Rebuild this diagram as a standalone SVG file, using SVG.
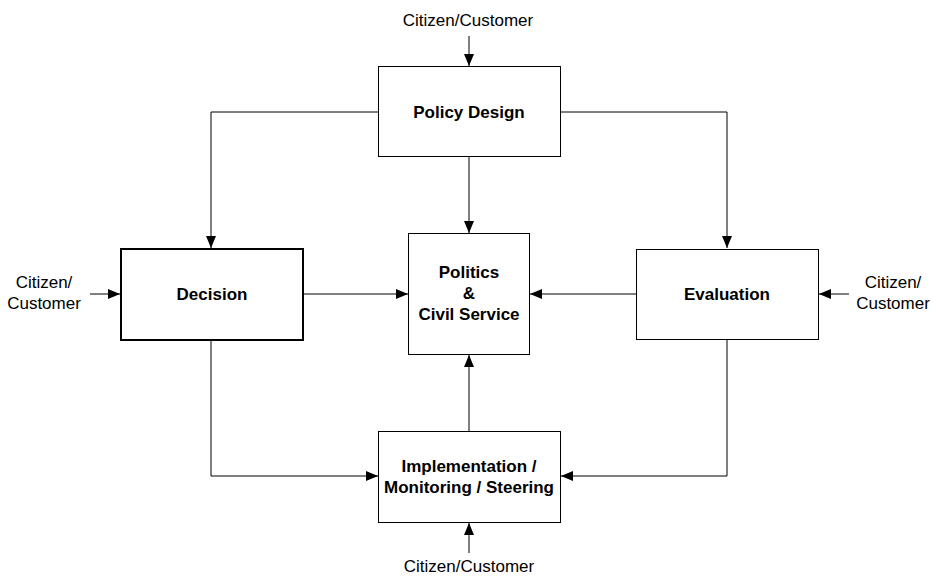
<svg xmlns="http://www.w3.org/2000/svg" width="933" height="576" viewBox="0 0 933 576">
  <style>
    .box { fill: #ffffff; stroke: #000000; stroke-width: 1; }
    .box-strong { fill: #ffffff; stroke: #000000; stroke-width: 2; }
    .label { font-family: "Liberation Sans", Arial, sans-serif; font-size: 17px; font-weight: bold; text-anchor: middle; fill: #000000; }
    .actor { font-family: "Liberation Sans", Arial, sans-serif; font-size: 17px; text-anchor: middle; fill: #000000; }
    .link { fill: none; stroke: #000000; stroke-width: 1; marker-end: url(#arrow); }
  </style>
  <defs>
    <marker id="arrow" viewBox="0 0 12 10" refX="12" refY="5" markerWidth="12" markerHeight="10" markerUnits="userSpaceOnUse" orient="auto">
      <path d="M0,0 L12,5 L0,10 Z" fill="#000000"/>
    </marker>
  </defs>
  <rect width="933" height="576" fill="#ffffff"/>

  <g id="connectors">
    <!-- citizen/customer inputs -->
    <line class="link" x1="469" y1="36" x2="469" y2="66"/>
    <line class="link" x1="90" y1="294" x2="120" y2="294"/>
    <line class="link" x1="849" y1="294" x2="819" y2="294"/>
    <line class="link" x1="469" y1="553" x2="469" y2="523"/>
    <!-- policy design outputs -->
    <polyline class="link" points="378,112 211,112 211,248"/>
    <polyline class="link" points="561,112 727,112 727,248"/>
    <line class="link" x1="469" y1="157" x2="469" y2="233"/>
    <!-- into politics & civil service -->
    <line class="link" x1="303" y1="294" x2="408" y2="294"/>
    <line class="link" x1="636" y1="294" x2="530" y2="294"/>
    <line class="link" x1="469" y1="431" x2="469" y2="355"/>
    <!-- into implementation -->
    <polyline class="link" points="211,340 211,476 378,476"/>
    <polyline class="link" points="727,340 727,476 561,476"/>
  </g>

  <g id="actor-top">
    <text class="actor" x="468" y="26">Citizen/Customer</text>
  </g>
  <g id="actor-left">
    <text class="actor" x="44" y="288">Citizen/</text>
    <text class="actor" x="44" y="309">Customer</text>
  </g>
  <g id="actor-right">
    <text class="actor" x="893" y="288">Citizen/</text>
    <text class="actor" x="893" y="309">Customer</text>
  </g>
  <g id="actor-bottom">
    <text class="actor" x="469" y="572">Citizen/Customer</text>
  </g>

  <g id="policy-design">
    <rect class="box" x="378.5" y="66.5" width="182" height="90"/>
    <text class="label" x="469" y="118">Policy Design</text>
  </g>
  <g id="decision">
    <rect class="box-strong" x="121" y="249" width="182" height="91"/>
    <text class="label" x="212" y="300">Decision</text>
  </g>
  <g id="politics">
    <rect class="box" x="408.5" y="233.5" width="121" height="121"/>
    <text class="label" x="469" y="278">Politics</text>
    <text class="label" x="469" y="299">&amp;</text>
    <text class="label" x="469" y="320">Civil Service</text>
  </g>
  <g id="evaluation">
    <rect class="box" x="636.5" y="249.5" width="182" height="90"/>
    <text class="label" x="727" y="300">Evaluation</text>
  </g>
  <g id="implementation">
    <rect class="box" x="378.5" y="431.5" width="182" height="91"/>
    <text class="label" x="469" y="472">Implementation /</text>
    <text class="label" x="469" y="493">Monitoring / Steering</text>
  </g>
</svg>
